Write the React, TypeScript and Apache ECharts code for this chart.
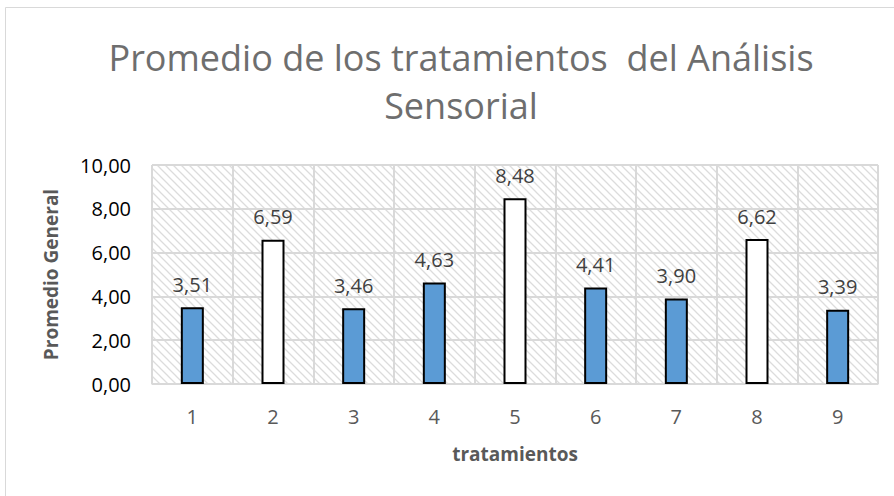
import React, { useEffect, useRef } from "react";
import * as echarts from "echarts";

const titleLines = ["Promedio de los tratamientos  del Análisis", "Sensorial"];
const categories = ["1", "2", "3", "4", "5", "6", "7", "8", "9"];
const values = [3.51, 6.59, 3.46, 4.63, 8.48, 4.41, 3.9, 6.62, 3.39];
const whiteCategories = ["2", "5", "8"];
const yTicks = [0, 2, 4, 6, 8, 10];
const xName = "tratamientos";
const yName = "Promedio General";

const fmt = (v: number) => v.toFixed(2).replace(".", ",");
const FONT = "Open Sans";

export default function App() {
  const ref = useRef<HTMLDivElement>(null);
  useEffect(() => {
    document.body.style.margin = "0";
    const el = ref.current!;
    const chart = echarts.init(el, null, { renderer: "svg" });

    const S = 8;
    const c = document.createElement("canvas");
    c.width = S;
    c.height = S;
    const ctx = c.getContext("2d")!;
    ctx.fillStyle = "#ffffff";
    ctx.fillRect(0, 0, S, S);
    ctx.strokeStyle = "#dcdcdc";
    ctx.lineWidth = 1.3;
    ctx.beginPath();
    ctx.moveTo(-1, -1);
    ctx.lineTo(S + 1, S + 1);
    ctx.moveTo(-1, S - 1);
    ctx.lineTo(1, S + 1);
    ctx.moveTo(S - 1, -1);
    ctx.lineTo(S + 1, 1);
    ctx.stroke();

    chart.setOption({
      animation: false,
      backgroundColor: "#ffffff",
      graphic: [
        {
          type: "rect",
          shape: { x: 5.5, y: 7.5, width: 900, height: 500 },
          style: { fill: "none", stroke: "#d9d9d9", lineWidth: 1 },
          z: -10,
        },
        {
          type: "text",
          x: 461,
          y: 57,
          style: {
            text: titleLines[0],
            font: `36px '${FONT}'`,
            fill: "#6e6e6e",
            align: "center",
            verticalAlign: "middle",
          },
        },
        {
          type: "text",
          x: 461,
          y: 105,
          style: {
            text: titleLines[1],
            font: `36px '${FONT}'`,
            fill: "#6e6e6e",
            align: "center",
            verticalAlign: "middle",
          },
        },
      ],
      grid: {
        left: 152,
        right: 16,
        top: 165,
        bottom: 112,
        show: true,
        backgroundColor: { image: c, repeat: "repeat" },
        borderColor: "#d9d9d9",
        borderWidth: 1,
      },
      xAxis: {
        type: "category",
        data: categories,
        name: xName,
        nameLocation: "middle",
        nameGap: 60,
        nameTextStyle: { fontFamily: FONT, fontSize: 19, fontWeight: "bold", color: "#595959" },
        axisLine: { show: true, lineStyle: { color: "#d9d9d9", width: 1 } },
        axisTick: { show: false },
        axisLabel: { fontFamily: FONT, fontSize: 20, color: "#595959", margin: 22 },
        splitLine: { show: true, interval: 0, lineStyle: { color: "#d9d9d9", width: 2 } },
      },
      yAxis: {
        type: "value",
        min: yTicks[0],
        max: yTicks[yTicks.length - 1],
        interval: yTicks[1] - yTicks[0],
        name: yName,
        nameLocation: "middle",
        nameGap: 92,
        nameTextStyle: { fontFamily: FONT, fontSize: 19, fontWeight: "bold", color: "#595959" },
        axisLine: { show: false },
        axisTick: { show: false },
        axisLabel: { fontFamily: FONT, fontSize: 20, color: "#000000", margin: 21, formatter: (v: number) => fmt(v) },
        splitLine: { show: true, lineStyle: { color: "#d9d9d9", width: 2 } },
      },
      series: [
        {
          type: "bar",
          data: values,
          barWidth: 23,
          itemStyle: {
            color: (p: any) => (whiteCategories.includes(categories[p.dataIndex]) ? "#ffffff" : "#5b9bd5"),
            borderColor: "#000000",
            borderWidth: 2,
          },
          label: {
            show: true,
            position: "top",
            distance: 13,
            fontFamily: FONT,
            fontSize: 20,
            color: "#404040",
            formatter: (p: any) => fmt(p.value),
          },
        },
      ],
    });
    return () => chart.dispose();
  }, []);
  return <div ref={ref} style={{ width: 894, height: 496 }} />;
}
